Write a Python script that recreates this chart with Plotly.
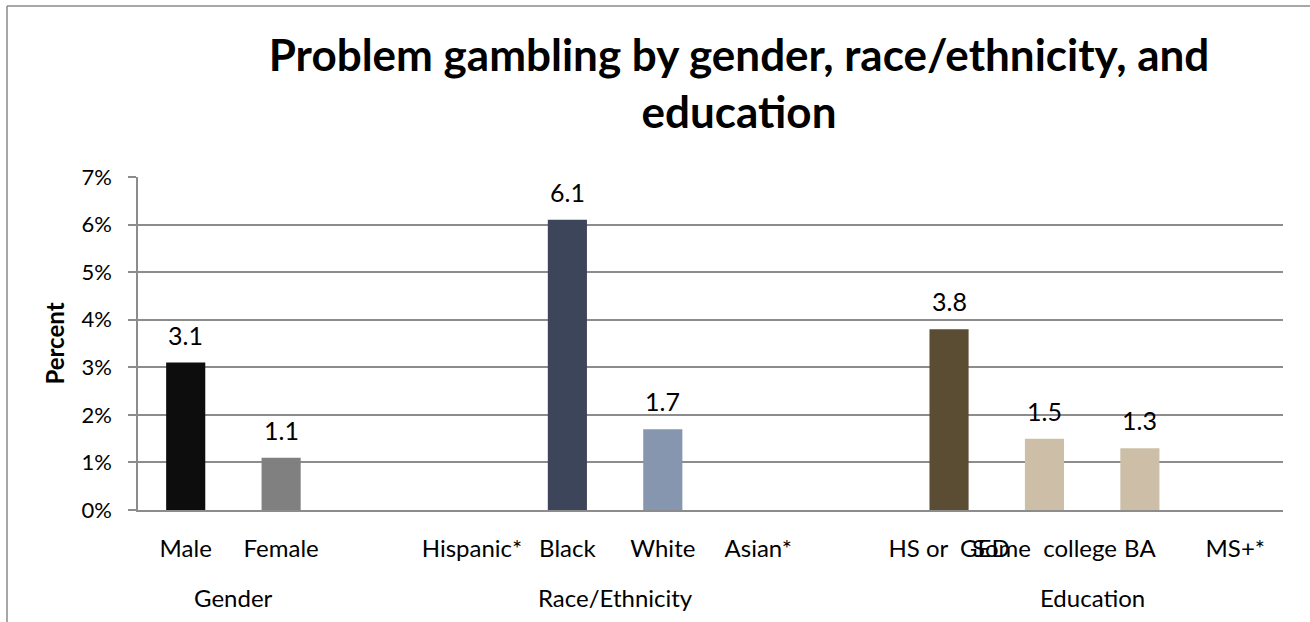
import plotly.graph_objects as go

# ---- data ----
categories = ["Male", "Female", " ", "Hispanic*", "Black", "White", "Asian*", "  ",
              "HS or  GED", "Some  college", "BA", "MS+*"]
values = [3.1, 1.1, None, None, 6.1, 1.7, None, None, 3.8, 1.5, 1.3, None]
bar_colors = ["#0d0d0d", "#808080", "#ffffff", "#ffffff", "#3c4559", "#8596ae",
              "#ffffff", "#ffffff", "#5b4d33", "#cdbfa7", "#cdbfa7", "#ffffff"]
groups = ["Gender", "Race/Ethnicity", "Education"]
group_spans = [("Male", "Female"), ("Hispanic*", "Asian*"), ("HS or  GED", "MS+*")]
y_ticks = [0, 1, 2, 3, 4, 5, 6, 7]
title_text = "Problem gambling by gender, race/ethnicity, and<br>education"

# ---- layout constants (pixels) ----
W, H = 1310, 622
ML, MR, MT, MB = 138, 27, 177, 112
PW, PH = W - ML - MR, H - MT - MB
FONT = "Lato"
GRID = "#8c8c8c"

def px_x(px):
    return (px - ML) / PW

def px_y(py):
    return (H - MB - py) / PH

fig = go.Figure()
fig.add_trace(go.Bar(
    x=categories, y=values,
    marker=dict(color=bar_colors, line=dict(width=0)),
    hoverinfo="x+y",
))

annotations = []
# data labels
for c, v in zip(categories, values):
    if v is None:
        continue
    annotations.append(dict(x=c, y=v, xref="x", yref="y", text=f"{v:.1f}",
                            showarrow=False, yanchor="middle", yshift=28,
                            font=dict(family=FONT, size=25, color="#000000")))
# group labels
idx = {c: i for i, c in enumerate(categories)}
for g, (a, b) in zip(groups, group_spans):
    annotations.append(dict(x=(idx[a] + idx[b]) / 2, y=0, xref="x", yref="paper",
                            text=g, showarrow=False, yanchor="middle", yshift=-87,
                            font=dict(family=FONT, size=24, color="#000000")))

shapes = [
    dict(type="line", xref="paper", yref="paper", x0=px_x(7), x1=px_x(7),
         y0=px_y(6), y1=px_y(640), line=dict(color="#8a8a8a", width=1.5)),
    dict(type="line", xref="paper", yref="paper", x0=px_x(7), x1=px_x(1320),
         y0=px_y(6), y1=px_y(6), line=dict(color="#8a8a8a", width=1.5)),
]

fig.update_layout(
    width=W, height=H, autosize=False,
    margin=dict(l=ML, r=MR, t=MT, b=MB, pad=0),
    paper_bgcolor="white", plot_bgcolor="white",
    showlegend=False,
    bargap=0.59,
    title=dict(text=title_text, x=px_x(739), xref="paper", xanchor="center",
               y=1 - 71 / H, yref="container", yanchor="top",
               font=dict(family=FONT, size=44, color="#000000", weight="bold")),
    font=dict(family=FONT, color="#000000"),
    annotations=annotations,
    shapes=shapes,
    xaxis=dict(
        type="category", categoryorder="array", categoryarray=categories,
        tickvals=categories, ticktext=[c.strip() for c in categories],
        tickangle=0, showgrid=False, showline=True, linecolor=GRID, linewidth=1.5,
        ticks="", ticklabelstandoff=16,
        tickfont=dict(family=FONT, size=24, color="#000000"),
        range=[-0.5, len(categories) - 0.5], fixedrange=True, zeroline=False,
    ),
    yaxis=dict(
        range=[0, 7], tickvals=y_ticks, ticktext=[f"{t}%" for t in y_ticks],
        showgrid=True, gridcolor=GRID, gridwidth=1.5,
        showline=True, linecolor=GRID, linewidth=1.5,
        ticks="outside", ticklen=8, tickcolor=GRID, tickwidth=1.5,
        ticklabelstandoff=12,
        tickfont=dict(family=FONT, size=22, color="#000000"),
        zeroline=False, fixedrange=True,
        title=dict(text="<b>Percent</b>", standoff=10,
                   font=dict(family=FONT, size=24, color="#000000")),
    ),
)

fig.write_html("out.html")
